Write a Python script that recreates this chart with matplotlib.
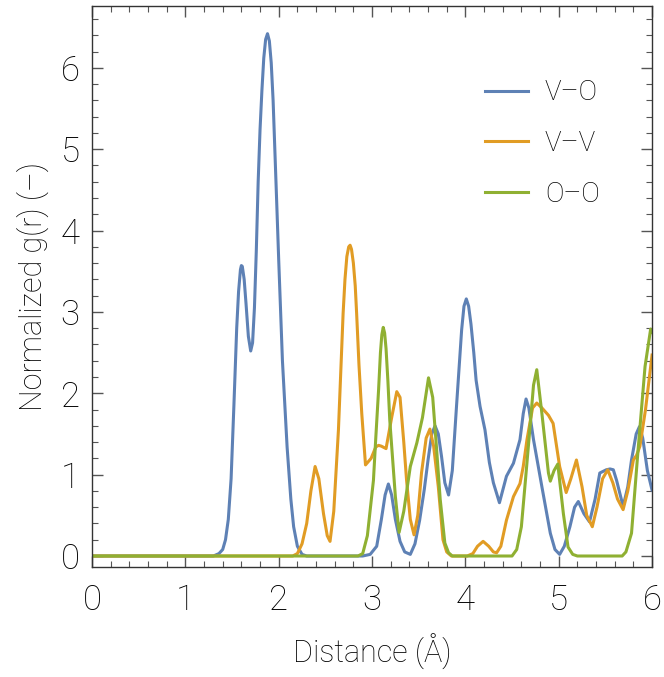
import matplotlib
matplotlib.use("Agg")
from matplotlib import pyplot as plt
from matplotlib.ticker import MultipleLocator

plt.rcParams["font.family"] = ["Roboto", "DejaVu Sans"]
plt.rcParams["font.weight"] = "light"
plt.rcParams["axes.labelweight"] = "light"

# V-O
vo_x = [0, 1.30, 1.36, 1.40, 1.43, 1.46, 1.49, 1.52, 1.55, 1.57, 1.59, 1.60, 1.61, 1.63, 1.65,
        1.675, 1.70, 1.72, 1.74, 1.76, 1.78, 1.80, 1.82, 1.84, 1.86, 1.88, 1.90, 1.92, 1.94,
        1.96, 1.98, 2.00, 2.04, 2.09, 2.13, 2.16, 2.20, 2.25, 2.30, 2.90, 2.98, 3.05, 3.10,
        3.14, 3.175, 3.21, 3.25, 3.30, 3.35, 3.41, 3.46, 3.51, 3.56, 3.60, 3.64, 3.675, 3.71,
        3.745, 3.78, 3.82, 3.86, 3.905, 3.96, 3.985, 4.01, 4.035, 4.06, 4.09, 4.115, 4.157,
        4.21, 4.257, 4.30, 4.365, 4.44, 4.515, 4.585, 4.62, 4.65, 4.68, 4.73, 4.82, 4.91,
        4.96, 5.01, 5.06, 5.12, 5.17, 5.21, 5.27, 5.33, 5.39, 5.44, 5.51, 5.55, 5.585, 5.62,
        5.69, 5.74, 5.78, 5.83, 5.865, 5.90, 5.95, 6.0]
vo_y = [0, 0, 0.03, 0.08, 0.2, 0.45, 0.95, 1.85, 2.8, 3.25, 3.52, 3.57, 3.56, 3.4, 3.1,
        2.7, 2.52, 2.62, 3.05, 3.75, 4.6, 5.24, 5.72, 6.12, 6.35, 6.42, 6.33, 6.06, 5.6,
        4.95, 4.3, 3.64, 2.4, 1.34, 0.7, 0.36, 0.12, 0.02, 0, 0, 0.02, 0.12, 0.45,
        0.75, 0.885, 0.75, 0.45, 0.18, 0.05, 0.02, 0.15, 0.44, 0.82, 1.18, 1.5, 1.60, 1.5,
        1.22, 0.9, 0.75, 1.05, 1.84, 2.78, 3.07, 3.16, 3.07, 2.85, 2.5, 2.16, 1.84,
        1.55, 1.15, 0.9, 0.655, 0.98, 1.14, 1.43, 1.75, 1.93, 1.82, 1.43, 0.85, 0.28,
        0.08, 0.02, 0.12, 0.36, 0.6, 0.67, 0.52, 0.42, 0.7, 1.02, 1.06, 1.07, 1.06, 0.93,
        0.61, 0.85, 1.18, 1.5, 1.59, 1.45, 1.05, 0.81]

# V-V
vv_x = [0, 2.15, 2.20, 2.25, 2.30, 2.345, 2.39, 2.43, 2.48, 2.52, 2.55, 2.59, 2.64, 2.69,
        2.71, 2.73, 2.75, 2.765, 2.78, 2.80, 2.82, 2.835, 2.86, 2.89, 2.93, 2.99, 3.04, 3.07,
        3.10, 3.15, 3.21, 3.265, 3.30, 3.34, 3.37, 3.41, 3.45, 3.49, 3.53, 3.58, 3.62, 3.66,
        3.71, 3.76, 3.80, 3.85, 4.02, 4.08, 4.13, 4.19, 4.25, 4.30, 4.335, 4.38, 4.44, 4.515,
        4.585, 4.62, 4.66, 4.72, 4.765, 4.82, 4.89, 4.94, 5.01, 5.08, 5.13, 5.19, 5.25, 5.30,
        5.36, 5.41, 5.47, 5.525, 5.58, 5.63, 5.69, 5.74, 5.80, 5.835, 5.87, 5.93, 6.0]
vv_y = [0, 0, 0.03, 0.15, 0.40, 0.8, 1.10, 0.95, 0.52, 0.25, 0.18, 0.55, 1.55, 2.98,
        3.4, 3.68, 3.8, 3.82, 3.77, 3.6, 3.32, 2.98, 2.35, 1.75, 1.12, 1.2, 1.34, 1.36,
        1.35, 1.32, 1.7, 2.02, 1.95, 1.4, 0.93, 0.45, 0.26, 0.5, 1.02, 1.45, 1.56, 1.35,
        0.85, 0.2, 0.05, 0, 0, 0.03, 0.12, 0.18, 0.12, 0.05, 0.04, 0.12, 0.44, 0.73,
        0.89, 1.1, 1.43, 1.82, 1.88, 1.82, 1.73, 1.63, 1.10, 0.78, 0.95, 1.18, 0.85, 0.5,
        0.36, 0.6, 0.95, 1.06, 0.9, 0.7, 0.57, 0.8, 1.18, 1.24, 1.35, 1.8, 2.47]

# O-O
oo_x = [0, 2.85, 2.90, 2.95, 3.015, 3.04, 3.07, 3.09, 3.105, 3.12, 3.135, 3.15, 3.17, 3.19,
        3.22, 3.25, 3.29, 3.34, 3.41, 3.48, 3.54, 3.605, 3.65, 3.69, 3.73, 3.78, 3.82, 3.86,
        4.50, 4.55, 4.60, 4.645, 4.69, 4.73, 4.765, 4.82, 4.89, 4.91, 4.95, 4.99, 5.05, 5.10,
        5.15, 5.20, 5.68, 5.72, 5.78, 5.85, 5.925, 5.985, 6.0]
oo_y = [0, 0, 0.03, 0.25, 0.93, 1.45, 2.04, 2.5, 2.72, 2.81, 2.74, 2.55, 2.15, 1.67,
        1.2, 0.73, 0.29, 0.55, 1.10, 1.39, 1.7, 2.19, 1.95, 1.34, 0.7, 0.16, 0.04, 0,
        0, 0.08, 0.36, 0.95, 1.55, 2.1, 2.29, 1.75, 1.02, 0.92, 1.05, 1.13, 0.52, 0.11,
        0.02, 0, 0, 0.05, 0.28, 1.30, 2.33, 2.79, 2.75]

labels = ["V\u2013O", "V\u2013V", "O\u2013O"]
colors = ["#5E81B5", "#E19C24", "#8FB032"]

fig = plt.figure(figsize=(6.64, 6.77), dpi=100)
ax = fig.add_axes([0.1386, 0.1625, 0.8434, 0.8286])

for xs, ys, lab, c in zip([vo_x, vv_x, oo_x], [vo_y, vv_y, oo_y], labels, colors):
    ax.plot(xs, ys, color=c, lw=2.2, label=lab, solid_joinstyle="round")

ax.set_xlim(0, 6)
ax.set_ylim(-0.135, 6.76)
ax.xaxis.set_major_locator(MultipleLocator(1))
ax.xaxis.set_minor_locator(MultipleLocator(0.2))
ax.yaxis.set_major_locator(MultipleLocator(1))
ax.yaxis.set_minor_locator(MultipleLocator(0.2))
ax.tick_params(which="both", direction="in", top=True, right=True, color="#555555")
ax.tick_params(which="major", length=8, width=1)
ax.tick_params(which="minor", length=4.5, width=0.8)
ax.tick_params(axis="x", which="major", labelsize=25, pad=12)
ax.tick_params(axis="y", which="major", labelsize=25, pad=9)
for s in ax.spines.values():
    s.set_color("#333333")
    s.set_linewidth(1)

ax.set_xlabel("Distance (\u00c5)", fontsize=22, labelpad=12)
ax.set_ylabel("Normalized g(r) (\u2013)", fontsize=22, labelpad=8)

ax.legend(loc="upper left", bbox_to_anchor=(0.682, 0.889), borderaxespad=0, frameon=False,
          fontsize=20, handlelength=1.55, handletextpad=0.6, labelspacing=0.85)

fig.savefig("out.png", dpi=100)
